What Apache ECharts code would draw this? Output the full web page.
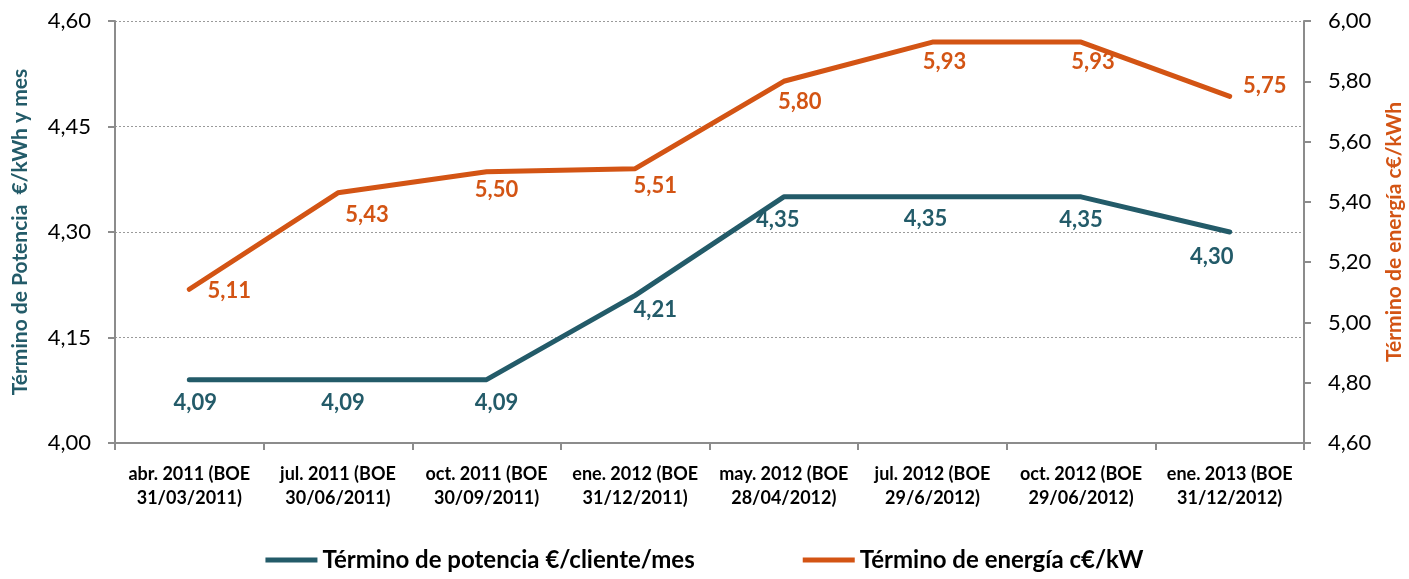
<!DOCTYPE html>
<html>
<head>
<meta charset="utf-8">
<script src="https://cdn.jsdelivr.net/npm/echarts@6/dist/echarts.min.js"></script>
<style>
  html, body { margin: 0; padding: 0; background: #fff; }
  #chart { width: 1409px; height: 579px; }
</style>
</head>
<body>
<div id="chart"></div>
<script>
// data
var categories = [
	'abr. 2011 (BOE\n31/03/2011)', 'jul. 2011 (BOE\n30/06/2011)', 'oct. 2011 (BOE\n30/09/2011)', 'ene. 2012 (BOE\n31/12/2011)',
	'may. 2012 (BOE\n28/04/2012)', 'jul. 2012 (BOE\n29/6/2012)', 'oct. 2012 (BOE\n29/06/2012)', 'ene. 2013 (BOE\n31/12/2012)'
];
var potencia = [4.09, 4.09, 4.09, 4.21, 4.35, 4.35, 4.35, 4.30];
var energia = [5.11, 5.43, 5.50, 5.51, 5.80, 5.93, 5.93, 5.75];

// label offsets (px) from each point
var potenciaOffsets = [[6, 23], [5, 23], [10, 23], [20, 15], [-6, 23], [-7, 22], [0, 23], [-18, 25]];
var energiaOffsets = [[40, 2], [29, 22], [10, 18], [20, 17], [16, 21], [12, 20], [12, 20], [35, -10]];

var TEAL = '#235B69';
var ORANGE = '#D35414';
var FONT = 'Lato';

function fmt(v) { return v.toFixed(2).replace('.', ','); }

function withOffsets(values, offsets) {
	return values.map((v, i) => ({ value: v, label: { offset: offsets[i] } }));
}

var chart = echarts.init(document.getElementById('chart'));

chart.setOption({
	animation: false,
	textStyle: { fontFamily: FONT },
	grid: { left: 115, right: 105, top: 21, bottom: 136, outerBoundsMode: 'none' },
	legend: {
		bottom: 2,
		left: 'center',
		icon: 'rect',
		itemWidth: 52,
		itemHeight: 5,
		itemGap: 108,
		textStyle: { fontFamily: FONT, fontSize: 24, fontWeight: 'bold', color: '#000' },
		data: ['Término de potencia €/cliente/mes', 'Término de energía c€/kW']
	},
	xAxis: [{
		type: 'category',
		data: categories,
		boundaryGap: true,
		axisLine: { lineStyle: { color: '#8c8c8c', width: 2 } },
		axisTick: { show: true, length: 7, lineStyle: { color: '#8c8c8c', width: 2 } },
		axisLabel: { fontFamily: FONT, fontSize: 18, fontWeight: 'bold', color: '#000', lineHeight: 24, margin: 19, interval: 0 }
	}],
	yAxis: [{
		type: 'value',
		min: 4.0,
		max: 4.6,
		interval: 0.15,
		name: 'Término de Potencia  €/kWh y mes',
		nameLocation: 'middle',
		nameGap: 84,
		nameTextStyle: { fontFamily: FONT, fontSize: 21, fontWeight: 'bold', color: TEAL },
		axisLine: { show: true, lineStyle: { color: '#8c8c8c', width: 2 } },
		axisTick: { show: true, length: 7, lineStyle: { color: '#8c8c8c', width: 2 } },
		axisLabel: { fontFamily: FONT, fontSize: 22, color: '#000', margin: 24, formatter: fmt },
		splitLine: { show: true, lineStyle: { color: '#9a9a9a', type: [2, 2], width: 1 } }
	}, {
		type: 'value',
		min: 4.6,
		max: 6.0,
		interval: 0.2,
		name: 'Término de energía c€/kWh',
		nameLocation: 'middle',
		nameGap: 80,
		nameTextStyle: { fontFamily: FONT, fontSize: 21, fontWeight: 'bold', color: ORANGE },
		axisLine: { show: true, lineStyle: { color: '#8c8c8c', width: 2 } },
		axisTick: { show: true, length: 7, lineStyle: { color: '#8c8c8c', width: 2 } },
		axisLabel: { fontFamily: FONT, fontSize: 22, color: '#000', margin: 24, formatter: fmt },
		splitLine: { show: false }
	}],
	series: [{
		name: 'Término de potencia €/cliente/mes',
		type: 'line',
		yAxisIndex: 0,
		data: withOffsets(potencia, potenciaOffsets),
		symbol: 'circle',
		symbolSize: 1,
		itemStyle: { color: TEAL },
		lineStyle: { color: TEAL, width: 5, cap: 'round', join: 'round' },
		label: {
			show: true,
			position: 'inside',
			align: 'center',
			verticalAlign: 'middle',
			fontFamily: FONT,
			fontSize: 22,
			fontWeight: 'bold',
			color: TEAL,
			formatter: (p) => fmt(p.value)
		}
	}, {
		name: 'Término de energía c€/kW',
		type: 'line',
		yAxisIndex: 1,
		data: withOffsets(energia, energiaOffsets),
		symbol: 'circle',
		symbolSize: 1,
		itemStyle: { color: ORANGE },
		lineStyle: { color: ORANGE, width: 5, cap: 'round', join: 'round' },
		label: {
			show: true,
			position: 'inside',
			align: 'center',
			verticalAlign: 'middle',
			fontFamily: FONT,
			fontSize: 22,
			fontWeight: 'bold',
			color: ORANGE,
			formatter: (p) => fmt(p.value)
		}
	}]
});
</script>
</body>
</html>
